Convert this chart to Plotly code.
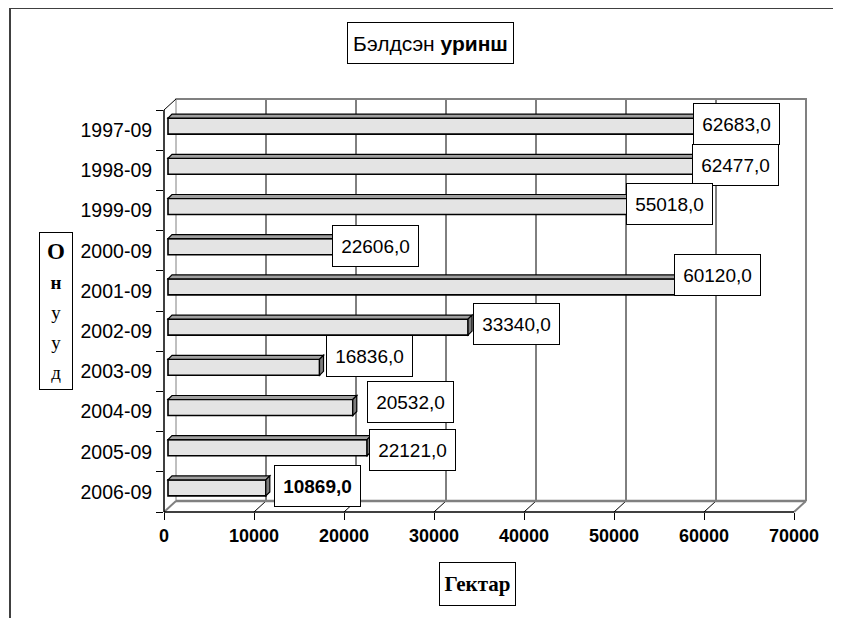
import plotly.graph_objects as go

# ---------------- data ----------------
categories = ["1997-09", "1998-09", "1999-09", "2000-09", "2001-09",
              "2002-09", "2003-09", "2004-09", "2005-09", "2006-09"]
values = [62683.0, 62477.0, 55018.0, 22606.0, 60120.0,
          33340.0, 16836.0, 20532.0, 22121.0, 10869.0]
x_ticks = [0, 10000, 20000, 30000, 40000, 50000, 60000, 70000]
title_plain = "Бэлдсэн"
title_bold = "уринш"
x_title = "Гектар"
y_title_letters = ["О", "н", "у", "у", "д"]

# ---------------- geometry / style ----------------
OFF = 8                                  # page body margin of the browser
W, H = 841 - OFF, 618 - OFF
L, R, T, B = 164, 812, 94, 512           # plot area in screen pixels
PX_PER_UNIT = 630.0 / 70000.0            # front-plane scale
CAT_PX = 40.2                            # pixels per category
DX, DY = 12, 11                          # depth of walls (px)
BAR_SHIFT, BAR_DEPTH, BAR_H = 4, 4, 16   # bar 3D geometry (px)

# label box offsets (px) relative to bar end / category centre
label_dx = [-39, -38, -37, -39, -35, 5, 6, 14, 2, 8]
label_dy = [-6, -5, -7, -5, -16, -7, -15, -10, -2, -6]
label_bold = [False] * 9 + [True]

FONT = "Liberation Sans"
SERIF = "Liberation Serif"

n = len(categories)
ypos = [n - 1 - k for k in range(n)]
x_max = (R - L) / PX_PER_UNIT
y_top = -0.5 + (B - T) / CAT_PX


def ux(px):
    return px / PX_PER_UNIT


def uy(px):
    return px / CAT_PX


def xp(px):
    return (px - L) / (R - L)


def yp(py):
    return (B - py) / (B - T)


fig = go.Figure()

fig.add_trace(go.Bar(
    x=values, y=ypos, orientation="h",
    base=ux(BAR_SHIFT),
    width=uy(BAR_H),
    offset=uy(BAR_SHIFT) - uy(BAR_H) / 2,
    marker=dict(color="#e4e4e4", line=dict(color="black", width=1.6)),
    hoverinfo="x+y",
    showlegend=False,
))

shapes = []

for v in x_ticks:
    edge = (v == x_ticks[-1]) or (v == 0)
    shapes.append(dict(type="line", layer="below", xref="x", xsizemode="pixel", xanchor=v,
                       x0=DX, x1=DX, yref="paper", y0=yp(B - DY), y1=yp(B - DY - 10 * CAT_PX - 1),
                       line=dict(color="#808080" if edge else "#000000",
                                 width=2 if v == x_ticks[-1] else 1)))
    shapes.append(dict(type="line", layer="below", xref="x", xsizemode="pixel", xanchor=v,
                       x0=0, x1=DX, yref="paper", y0=0, y1=yp(B - DY),
                       line=dict(color="#808080" if edge else "black",
                                 width=2 if edge else 1)))

top_py = B - 10 * CAT_PX - DY
shapes.append(dict(type="line", layer="below", xref="paper", yref="paper",
                   x0=xp(L + DX), x1=xp(L + DX + 630), y0=yp(top_py), y1=yp(top_py),
                   line=dict(color="#808080", width=2)))
shapes.append(dict(type="line", layer="below", xref="paper", yref="paper",
                   x0=xp(L + DX), x1=xp(L + DX + 630), y0=yp(B - DY), y1=yp(B - DY),
                   line=dict(color="#808080", width=2.5)))
shapes.append(dict(type="line", layer="below", xref="paper", yref="paper",
                   x0=0, x1=xp(L + DX), y0=yp(B - 10 * CAT_PX), y1=yp(top_py),
                   line=dict(color="black", width=1)))
shapes.append(dict(type="line", layer="above", xref="x", yref="paper",
                   x0=0, x1=x_ticks[-1], y0=0, y1=0,
                   line=dict(color="black", width=1.5)))
shapes.append(dict(type="line", layer="above", xref="paper", yref="y",
                   x0=0, x1=0, y0=-0.5, y1=n - 0.5,
                   line=dict(color="black", width=1.5)))

for v, yc in zip(values, ypos):
    xa = ux(BAR_SHIFT)
    xb = ux(BAR_SHIFT) + v
    ytp = yc + uy(BAR_SHIFT) + uy(BAR_H) / 2
    ybt = yc + uy(BAR_SHIFT) - uy(BAR_H) / 2
    dxu, dyu = ux(BAR_DEPTH), uy(BAR_DEPTH)
    shapes.append(dict(type="path", layer="above", xref="x", yref="y",
                       path=f"M{xa},{ytp} L{xb},{ytp} L{xb + dxu},{ytp + dyu} L{xa + dxu},{ytp + dyu} Z",
                       fillcolor="#a0a0a0", line=dict(color="black", width=1.2)))
    shapes.append(dict(type="path", layer="above", xref="x", yref="y",
                       path=f"M{xb},{ybt} L{xb},{ytp} L{xb + dxu},{ytp + dyu} L{xb + dxu},{ybt + dyu} Z",
                       fillcolor="#7c7c7c", line=dict(color="black", width=1.2)))

shapes.append(dict(type="rect", layer="below", xref="paper", yref="paper",
                   x0=xp(10), x1=xp(860), y0=yp(8), y1=yp(640),
                   line=dict(color="#404040", width=2)))

annotations = []
for k, (v, yc) in enumerate(zip(values, ypos)):
    txt = f"{v:.1f}".replace(".", ",")
    if label_bold[k]:
        txt = f"<b>{txt}</b>"
    annotations.append(dict(
        x=v, y=yc, xref="x", yref="y", xanchor="left", yanchor="middle",
        xshift=BAR_SHIFT + label_dx[k], yshift=-label_dy[k],
        text=txt, showarrow=False, align="center",
        width=85, height=40, borderpad=0, borderwidth=1,
        bordercolor="black", bgcolor="white",
        font=dict(family=FONT, size=19, color="black"),
    ))

annotations.append(dict(
    x=xp(430.5), y=yp(43), xref="paper", yref="paper",
    xanchor="center", yanchor="middle", showarrow=False,
    text=f"{title_plain} <b>{title_bold}</b>",
    width=165, height=40, borderpad=0, borderwidth=1,
    bordercolor="black", bgcolor="white",
    font=dict(family=FONT, size=21, color="black"),
))

ylet = []
for i, ch in enumerate(y_title_letters):
    if i == 0:
        ylet.append(f"<b><span style='font-size:23px'>{ch}</span></b>")
    elif i == 1:
        ylet.append(f"<b><span style='font-size:19px'>{ch}</span></b>")
    else:
        ylet.append(f"<span style='font-size:19px'>{ch}</span>")
annotations.append(dict(
    x=xp(56), y=yp(311), xref="paper", yref="paper",
    xanchor="center", yanchor="middle", showarrow=False,
    text="<br>".join(ylet),
    width=32, height=156, borderpad=0, borderwidth=1,
    bordercolor="black", bgcolor="white",
    font=dict(family=SERIF, size=23, color="black"),
))

annotations.append(dict(
    x=xp(477.5), y=yp(584), xref="paper", yref="paper",
    xanchor="center", yanchor="middle", showarrow=False,
    text=f"<b>{x_title}</b>",
    width=75, height=42, borderpad=0, borderwidth=1,
    bordercolor="black", bgcolor="white",
    font=dict(family=SERIF, size=21, color="black"),
))

fig.update_layout(
    width=W, height=H,
    margin=dict(l=L - OFF, r=(W + OFF) - R, t=T - OFF, b=(H + OFF) - B, pad=0),
    paper_bgcolor="white", plot_bgcolor="white",
    showlegend=False,
    xaxis=dict(range=[0, x_max], tickmode="array", tickvals=x_ticks,
               ticktext=[str(t) for t in x_ticks],
               ticks="outside", ticklen=7, tickcolor="black", tickwidth=1,
               showgrid=False, zeroline=False, showline=False,
               tickfont=dict(family=FONT, size=18, color="black", weight="bold")),
    yaxis=dict(range=[-0.5, y_top], tickmode="array", tickvals=ypos, ticktext=categories,
               ticks="outside", ticklen=7, tickcolor="rgba(0,0,0,0)",
               showgrid=False, zeroline=False, showline=False,
               tickfont=dict(family=FONT, size=19.5, color="black"),
               minor=dict(tickmode="array", tickvals=[i - 0.5 for i in range(n + 1)],
                          ticks="outside", ticklen=7, tickcolor="black", tickwidth=1,
                          showgrid=False)),
    shapes=shapes,
    annotations=annotations,
)

fig.write_html("out.html")
